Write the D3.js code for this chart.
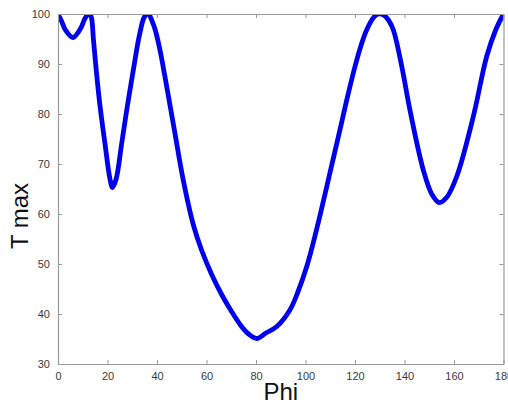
<!DOCTYPE html>
<html>
<head>
<meta charset="utf-8">
<script src="https://cdn.jsdelivr.net/npm/d3@7"></script>
<style>
  html, body { margin: 0; padding: 0; background: #fff; }
  svg { display: block; }
  text { font-family: "Liberation Sans", Arial, sans-serif; }
</style>
</head>
<body>
<svg id="chart" width="508" height="404"></svg>
<script>
const phi = [0, 1.5, 3, 6, 9, 11, 12.3, 13.3, 14.3, 15.5, 17, 19, 21, 22, 23.5, 25.7, 28, 30.5, 33, 35, 36.5, 38, 39.3, 41.2, 43.2, 47.3, 50.6, 54.7, 58, 62, 66, 70, 74, 77, 80.3, 84, 88.4, 93.7, 97, 100.5, 103, 106, 110, 114, 117, 120, 122.5, 124.7, 127.5, 129.5, 131.5, 133.5, 135.5, 138.9, 142.2, 147.6, 151, 154, 157, 161.1, 167.8, 173.2, 177, 180];
const tmax = [100, 98.5, 96.8, 95.3, 97, 99.2, 100, 99.6, 95, 88.5, 81.5, 74, 67, 65.3, 67, 74, 81.5, 89, 96, 99.5, 100, 98.6, 96.8, 92.8, 87.5, 76, 66.8, 57.8, 52.8, 48, 44, 40.6, 37.6, 36, 35.1, 36.2, 37.5, 40.8, 44.5, 49.5, 54, 60, 68.5, 77, 83.5, 89.5, 93.8, 96.8, 99.3, 100, 99.8, 98.8, 96.8, 89.5, 80.8, 68.8, 64, 62.3, 63.3, 67.5, 79.5, 91.5, 97, 100];
const xTicks = [0, 20, 40, 60, 80, 100, 120, 140, 160, 180];
const yTicks = [30, 40, 50, 60, 70, 80, 90, 100];
const xLabel = "Phi";
const yLabel = "T max";

const svg = d3.select("#chart");
const L = 58, R = 503.5, T = 14, B = 364;
const x = d3.scaleLinear().domain([0, 180]).range([L, R]);
const y = d3.scaleLinear().domain([30, 100]).range([B, T]);
const axisColor = "#9a9a9a";
const labelColor = "#3a3a3a";

svg.append("defs").append("clipPath").attr("id", "clip")
  .append("rect").attr("x", L).attr("y", T).attr("width", R - L).attr("height", B - T);

const data = phi.map((p, i) => [p, tmax[i]]);
const line = d3.line().x(d => x(d[0])).y(d => y(d[1])).curve(d3.curveCatmullRom.alpha(0.5));

svg.append("path").datum(data)
  .attr("d", line)
  .attr("fill", "none")
  .attr("stroke", "#0000ee")
  .attr("stroke-width", 4.8)
  .attr("stroke-linejoin", "round")
  .attr("clip-path", "url(#clip)");

function style(g) {
  g.select(".domain").attr("stroke", axisColor).attr("stroke-width", 1.2);
  g.selectAll(".tick line").attr("stroke", axisColor).attr("stroke-width", 1);
  g.selectAll(".tick text").attr("fill", labelColor).attr("font-size", 11)
    .attr("font-family", "'Liberation Sans', Arial, sans-serif");
}

svg.append("g").attr("transform", `translate(0,${B})`)
  .call(d3.axisBottom(x).tickValues(xTicks).tickSizeInner(-4).tickSizeOuter(0).tickPadding(8).tickFormat(d3.format("d")))
  .call(style);
svg.append("g").attr("transform", `translate(0,${T})`)
  .call(d3.axisTop(x).tickValues(xTicks).tickSizeInner(-4).tickSizeOuter(0).tickFormat(""))
  .call(style);
svg.append("g").attr("transform", `translate(${L},0)`)
  .call(d3.axisLeft(y).tickValues(yTicks).tickSizeInner(-4).tickSizeOuter(0).tickPadding(8).tickFormat(d3.format("d")))
  .call(style);
svg.append("g").attr("transform", `translate(${R},0)`)
  .call(d3.axisRight(y).tickValues(yTicks).tickSizeInner(-4).tickSizeOuter(0).tickFormat(""))
  .call(style);

svg.append("text")
  .attr("x", (L + R) / 2).attr("y", 400)
  .attr("text-anchor", "middle")
  .attr("font-size", 24)
  .attr("fill", "#111")
  .text(xLabel);

svg.append("text")
  .attr("transform", `translate(28,${(T + B) / 2 + 27}) rotate(-90)`)
  .attr("text-anchor", "middle")
  .attr("font-size", 24)
  .attr("fill", "#111")
  .text(yLabel);
</script>
</body>
</html>
